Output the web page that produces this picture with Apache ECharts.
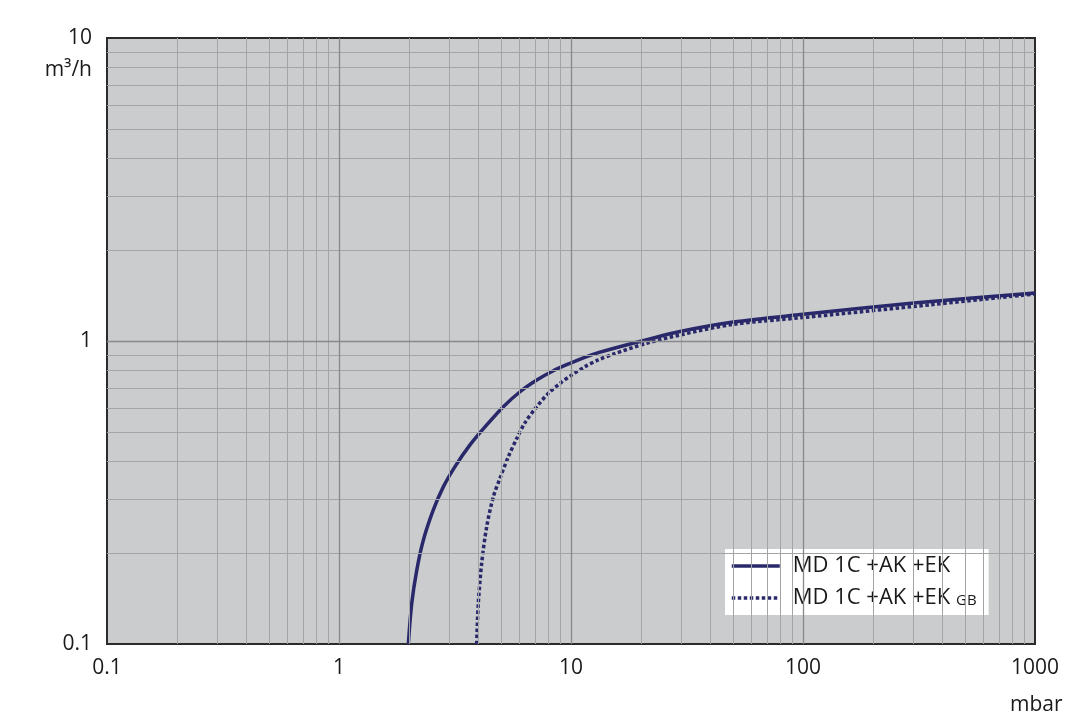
<!DOCTYPE html>
<html>
<head>
<meta charset="utf-8">
<script src="https://cdn.jsdelivr.net/npm/echarts@6/dist/echarts.min.js"></script>
<style>html,body{margin:0;padding:0;background:#fff}#c{width:1080px;height:721px}</style>
</head>
<body>
<div id="c"></div>
<script>
// Data (pressure in mbar, pumping speed in m³/h)
const seriesNames = ['MD 1C +AK +EK', 'MD 1C +AK +EK GB'];
const solidCurve = [[1.99,0.1],[2.058,0.136],[2.163,0.175],[2.309,0.220],[2.55,0.277],[2.816,0.330],[3.162,0.385],[3.67,0.454],[4.33,0.528],[5.11,0.607],[6.03,0.680],[7.12,0.743],[8.39,0.798],[9.90,0.844],[11.69,0.888],[13.12,0.915],[15.2,0.945],[21.2,1.01],[29.5,1.075],[50,1.155],[100,1.225],[300,1.335],[1000,1.44]];
const dottedCurve = [[3.92,0.1],[3.985,0.136],[4.122,0.185],[4.332,0.244],[4.626,0.306],[4.94,0.352],[5.37,0.415],[5.83,0.476],[6.34,0.538],[7.12,0.607],[7.99,0.672],[8.97,0.725],[10.07,0.772],[11.49,0.823],[13.12,0.866],[15.2,0.905],[21.2,0.983],[29.5,1.047],[50,1.135],[100,1.195],[300,1.30],[1000,1.43]];
const xTicks = [0.1, 1, 10, 100, 1000];
const yTicks = [0.1, 1, 10];
const xMinorGrid = [0.2,0.3,0.4,0.5,0.6,0.7,0.8,0.9,2,3,4,5,6,7,8,9,20,30,40,50,60,70,80,90,200,300,400,500,600,700,800,900];
const xMajorGrid = [1, 10, 100];
const yMinorGrid = [0.2,0.3,0.4,0.5,0.6,0.7,0.8,0.9,2,3,4,5,6,7,8,9];
const yMajorGrid = [1];

const FONT = 'Open Sans';
const LINE = '#28286a';
const TEXT = '#1a1a1a';

const gridLines = [];
xMinorGrid.forEach(v => gridLines.push({xAxis: v, lineStyle: {color: '#a3a4a6', width: 1, type: 'solid'}}));
yMinorGrid.forEach(v => gridLines.push({yAxis: v, lineStyle: {color: '#a3a4a6', width: 1, type: 'solid'}}));
xMajorGrid.forEach(v => gridLines.push({xAxis: v, lineStyle: {color: '#88898b', width: 1.3, type: 'solid'}}));
yMajorGrid.forEach(v => gridLines.push({yAxis: v, lineStyle: {color: '#88898b', width: 1.3, type: 'solid'}}));

const chart = echarts.init(document.getElementById('c'));
chart.setOption({
  animation: false,
  backgroundColor: '#ffffff',
  grid: {left: 107, right: 45, top: 38, bottom: 77, show: true, backgroundColor: '#cbcccd', borderColor: '#2b2b2b', borderWidth: 2},
  xAxis: {
    type: 'log', logBase: 10, min: 0.1, max: 1000,
    axisLine: {show: true, lineStyle: {color: '#2b2b2b', width: 2}},
    axisTick: {show: false},
    splitLine: {show: false},
    axisLabel: {
      margin: 14, color: TEXT, fontFamily: FONT, fontSize: 21,
      formatter: v => { const m = xTicks.find(t => Math.abs(t - v) / t < 1e-6); return m === undefined ? '' : String(m); }
    }
  },
  yAxis: {
    type: 'log', logBase: 10, min: 0.1, max: 10,
    axisLine: {show: true, lineStyle: {color: '#2b2b2b', width: 2}},
    axisTick: {show: false},
    splitLine: {show: false},
    axisLabel: {
      margin: 15, color: TEXT, fontFamily: FONT, fontSize: 21,
      formatter: v => { const m = yTicks.find(t => Math.abs(t - v) / t < 1e-6); return m === undefined ? '' : String(m); }
    }
  },
  legend: {
    left: 725, top: 549,
    orient: 'vertical',
    align: 'left',
    backgroundColor: '#ffffff',
    padding: [6, 12, 6, 5],
    itemWidth: 48, itemHeight: 25, itemGap: 10,
    itemStyle: {opacity: 0},
    lineStyle: {width: 3.5},
    data: seriesNames,
    formatter: name => name === seriesNames[1] ? '{a|MD 1C +AK +EK} {b|GB}' : '{a|' + name + '}',
    textStyle: {
      color: TEXT, fontFamily: FONT, fontSize: 22,
      rich: {
        a: {fontFamily: FONT, fontSize: 22, color: TEXT, padding: [0, 0, 0, 8]},
        b: {fontFamily: FONT, fontSize: 15, color: TEXT, padding: [5, 0, 0, 0]}
      }
    }
  },
  graphic: [
    {type: 'text', right: 988, top: 60, style: {text: 'm³/h', fontFamily: FONT, fontSize: 21, fill: TEXT, textAlign: 'right'}},
    {type: 'text', left: 1010, top: 695, style: {text: 'mbar', fontFamily: FONT, fontSize: 21, fill: TEXT}}
  ],
  series: [
    {
      name: 'grid', type: 'line', data: [], z: 1, silent: true,
      markLine: {silent: true, symbol: 'none', label: {show: false}, animation: false, data: gridLines}
    },
    {
      name: seriesNames[0], type: 'line', data: solidCurve, smooth: 0.3, symbol: 'none', showSymbol: false, z: 3,
      lineStyle: {color: LINE, width: 3.5, type: 'solid'}, itemStyle: {color: LINE}
    },
    {
      name: seriesNames[1], type: 'line', data: dottedCurve, smooth: 0.3, symbol: 'none', showSymbol: false, z: 3,
      lineStyle: {color: LINE, width: 3.5, type: [3.5, 2.5]}, itemStyle: {color: LINE}
    }
  ]
});
</script>
</body>
</html>
